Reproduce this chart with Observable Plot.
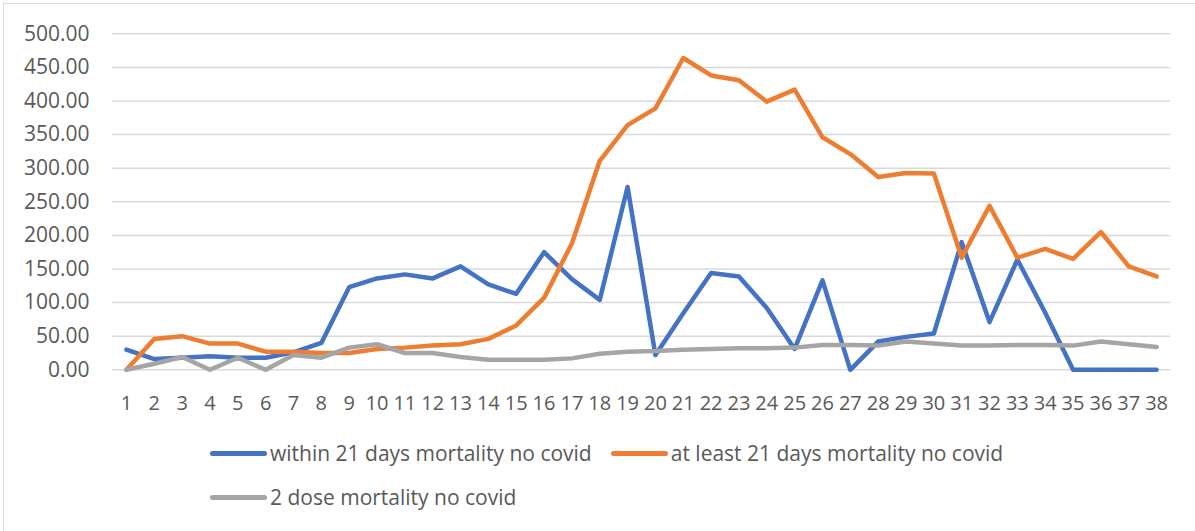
<!DOCTYPE html>
<html>
<head>
<meta charset="utf-8">
<script src="https://cdn.jsdelivr.net/npm/d3@7"></script>
<script src="https://cdn.jsdelivr.net/npm/@observablehq/plot@0.6"></script>
<style>
  html, body { margin: 0; padding: 0; background: #fff; }
  #wrap { position: relative; width: 1195px; height: 531px; overflow: hidden; font-family: "Open Sans", sans-serif; color: #595959; }
  #frame { position: absolute; left: 3px; top: 3px; width: 1300px; height: 600px; border-left: 1.5px solid #d9d9d9; border-top: 1.5px solid #d9d9d9; }
  #chart { position: absolute; left: 0; top: 0; }
  #legend { position: absolute; left: 210px; top: 438px; width: 820px; display: flex; flex-wrap: wrap; column-gap: 19px; row-gap: 14px; font-size: 21px; line-height: 30px; }
  .item { display: flex; align-items: center; white-space: nowrap; }
  .sw { width: 57px; height: 5px; border-radius: 3px; margin-right: 3px; }
</style>
</head>
<body>
<div id="wrap">
  <div id="frame"></div>
  <div id="chart"></div>
  <div id="legend"></div>
</div>
<script>
const weeks = d3.range(1, 39);
const seriesNames = [
  "within 21 days mortality no covid",
  "at least 21 days mortality no covid",
  "2 dose mortality no covid"
];
const seriesColors = ["#4472C4", "#ED7D31", "#A5A5A5"];
const within21 = [30, 16, 18, 20, 18, 18, 26, 40, 123, 136, 142, 136, 154, 127, 113, 175, 135, 104, 272, 22, 84, 144, 139, 92, 31, 133, 0, 42, 49, 54, 190, 71, 164, 85, 0, 0, 0, 0];
const atLeast21 = [0, 46, 50, 39, 39, 27, 27, 25, 25, 31, 33, 36, 38, 46, 66, 107, 188, 311, 364, 389, 464, 438, 431, 399, 417, 346, 321, 287, 293, 292, 167, 244, 167, 180, 165, 205, 154, 139];
const twoDose = [0, 9, 19, 0, 18, 0, 22, 18, 33, 38, 25, 25, 19, 15, 15, 15, 17, 24, 27, 28, 30, 31, 32, 32, 33, 37, 37, 36, 42, 39, 36, 36, 37, 37, 36, 42, 38, 34];
const yTicks = d3.range(0, 501, 50);

const allSeries = [within21, atLeast21, twoDose];
const data = allSeries.flatMap((vals, s) => vals.map((v, i) => ({week: weeks[i], value: v, series: seriesNames[s]})));

const plot = Plot.plot({
  width: 1195,
  height: 425,
  marginLeft: 112,
  marginRight: 25,
  marginTop: 33.3,
  marginBottom: 55.7,
  style: {fontFamily: "'Open Sans', sans-serif", color: "#595959", background: "transparent"},
  x: {type: "linear", domain: [0.5, 38.5]},
  y: {domain: [0, 500]},
  color: {domain: seriesNames, range: seriesColors},
  marks: [
    Plot.ruleY(yTicks, {stroke: "#d9d9d9", strokeWidth: 1.5}),
    Plot.axisY({ticks: yTicks, tickFormat: d3.format(".2f"), tickSize: 0, tickPadding: 23, fontSize: 21, label: null}),
    Plot.axisX({ticks: weeks, tickFormat: d => String(d), tickSize: 0, tickPadding: 26, fontSize: 20, label: null}),
    Plot.line(data, {x: "week", y: "value", z: "series", stroke: "series", strokeWidth: 4.5, strokeLinejoin: "round", strokeLinecap: "round"})
  ]
});
document.getElementById("chart").appendChild(plot);

const legend = document.getElementById("legend");
seriesNames.forEach((name, i) => {
  const item = document.createElement("div");
  item.className = "item";
  const sw = document.createElement("span");
  sw.className = "sw";
  sw.style.background = seriesColors[i];
  const t = document.createElement("span");
  t.textContent = name;
  item.appendChild(sw);
  item.appendChild(t);
  legend.appendChild(item);
});
</script>
</body>
</html>
